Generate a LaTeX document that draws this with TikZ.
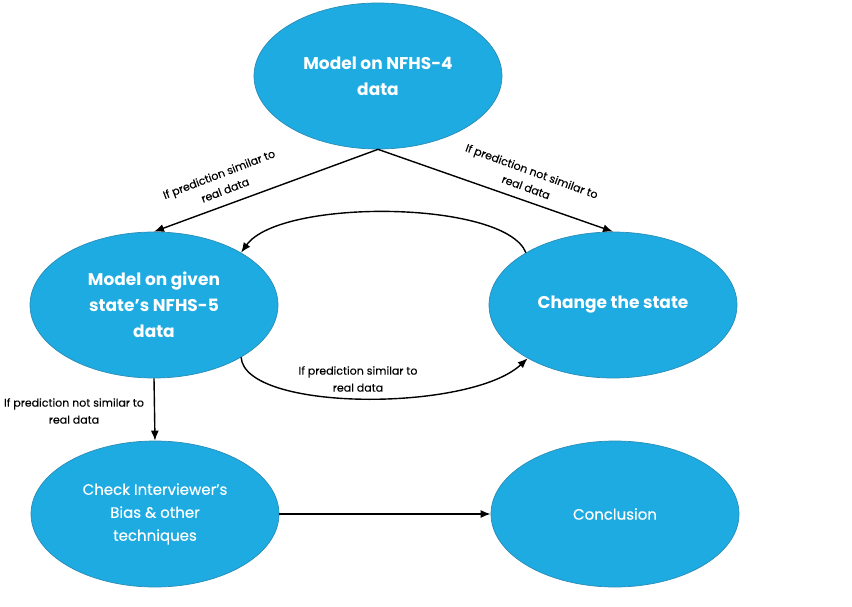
\documentclass[tikz,border=0pt]{standalone}
\usepackage{fontspec}
\setmainfont{Poppins}
\usetikzlibrary{shapes.geometric,arrows.meta}
\definecolor{fillblue}{HTML}{1DABE1}
\definecolor{edgeblue}{HTML}{2A8DB8}
\begin{document}
\begin{tikzpicture}[x=1pt,y=-1pt,
 state/.style={ellipse, fill=fillblue, draw=edgeblue, line width=0.7pt, minimum width=248pt, minimum height=146pt, inner sep=0pt, text=white, align=center},
 big/.style={font=\fontsize{17}{26}\selectfont\bfseries},
 small/.style={font=\fontsize{15}{23}\selectfont\addfontfeatures{FakeBold=0.4}},
 conn/.style={draw=black, line width=1.4pt, -{Latex[length=10pt,width=8pt]}},
 lbl/.style={font=\fontsize{11}{17}\selectfont\addfontfeatures{FakeBold=0.2}, align=center, text=black, inner sep=0pt}]
\useasboundingbox (0,0) rectangle (852,607);
\node[state, big] (top) at (378,76) {Model on NFHS-4\\data};
\node[state, big] (given) at (154,305) {Model on given\\state’s NFHS-5\\data};
\node[state, big] (change) at (613,305) {Change the state};
\node[state, small] (check) at (155,514) {Check Interviewer’s\\Bias \& other\\techniques};
\node[state, small] (concl) at (615,514) {Conclusion};

\draw[conn] (top.south) -- (given.north);
\draw[conn] (top.south) -- (change.north);
\draw[conn] (change.149) .. controls (505,200) and (280,198) .. (given.31);
\draw[conn] (given.-31) .. controls (245,412) and (470,412) .. (change.212);
\draw[conn] (given.south) -- (check.north);
\draw[conn] (check.east) -- (concl.west);

\node[lbl, rotate=21] (l1) at (222,182) {If prediction similar to\\real data};
\node[lbl, rotate=-20] (l2) at (529,179) {If prediction not similar to\\real data};
\node[lbl] (l3) at (358,379) {If prediction similar to\\real data};
\node[lbl] (l4) at (74,411) {If prediction not similar to\\real data};
\end{tikzpicture}
\end{document}
